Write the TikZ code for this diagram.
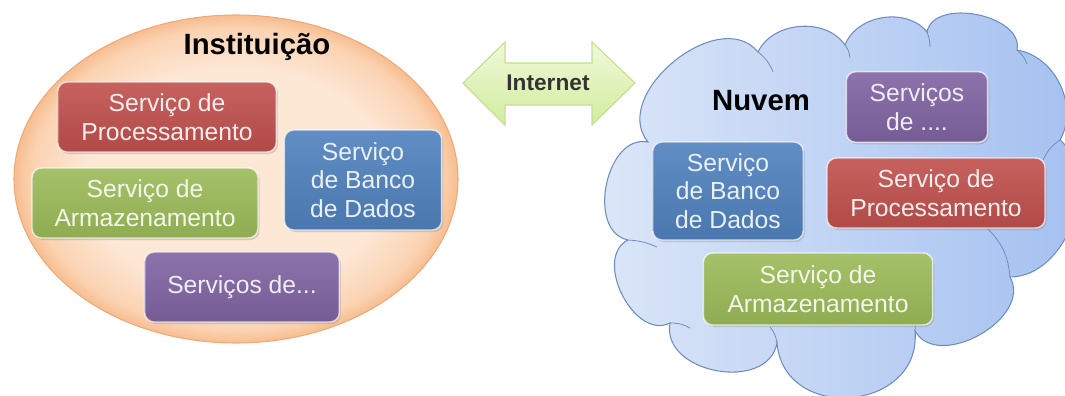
\documentclass[tikz,border=0pt]{standalone}
\usepackage{fontspec}
\setmainfont{Liberation Sans}
\usetikzlibrary{shadows}

\definecolor{peachIn}{HTML}{FDE7D5}
\definecolor{peachMid}{HTML}{FBD3B2}
\definecolor{peachOut}{HTML}{F5B27F}
\definecolor{peachLine}{HTML}{EFAA78}
\definecolor{cloudL}{HTML}{DDE7F8}
\definecolor{cloudR}{HTML}{A2BFF0}
\definecolor{cloudLine}{HTML}{6F8EC0}
\definecolor{arrowTop}{HTML}{EFF9D8}
\definecolor{arrowBot}{HTML}{D2ECA0}
\definecolor{arrowLine}{HTML}{C4DF90}
\definecolor{svcRed}{HTML}{C0504D}
\definecolor{svcGreen}{HTML}{9BBB59}
\definecolor{svcBlue}{HTML}{4F81BD}
\definecolor{svcPurple}{HTML}{8064A2}

\pgfdeclareradialshading{peachglow}{\pgfpoint{0bp}{0bp}}{color(0bp)=(peachIn); color(17bp)=(peachIn); color(23bp)=(peachMid); color(26bp)=(peachOut); color(50bp)=(peachOut)}

\tikzset{
  svc/.style={rounded corners=7pt, draw=white, draw opacity=0.7, line width=1.1pt,
    align=center, inner sep=0pt, font=\fontsize{18.5}{21.5}\selectfont,
    drop shadow={opacity=0.3, shadow xshift=1.2pt, shadow yshift=-1.5pt}},
  redsvc/.style={svc, top color=svcRed!90!white, bottom color=svcRed!92!black, text=white!90!svcRed},
  greensvc/.style={svc, top color=svcGreen!90!white, bottom color=svcGreen!92!black, text=white!88!svcGreen},
  bluesvc/.style={svc, top color=svcBlue!90!white, bottom color=svcBlue!92!black, text=white!88!svcBlue},
  purplesvc/.style={svc, top color=svcPurple!90!white, bottom color=svcPurple!92!black, text=white!88!svcPurple},
  areatitle/.style={font=\bfseries\fontsize{22}{24}\selectfont, inner sep=0pt},
  crease/.style={draw=cloudLine, line width=0.6pt}
}

\begin{document}
\begin{tikzpicture}[x=0.75pt,y=-0.75pt]
\useasboundingbox (0,0) rectangle (1065,396);
\fill[white] (0,0) rectangle (1065,396);

% instituicao
\shade[shading=peachglow] (236,179) ellipse [x radius=166.5pt, y radius=123pt];
\draw[peachLine, line width=0.8pt] (236,179) ellipse [x radius=166.5pt, y radius=123pt];
\node[areatitle] (instTitle) at (257,47) {Instituição};
\node[redsvc, minimum width=164pt, minimum height=52.5pt] (instProc) at (167,117) {Serviço de\\Processamento};
\node[greensvc, minimum width=169.5pt, minimum height=52.5pt] (instArm) at (145,203) {Serviço de\\Armazenamento};
\node[bluesvc, minimum width=118pt, minimum height=75pt] (instBD) at (363,180) {Serviço\\de Banco\\de Dados};
\node[purplesvc, minimum width=146pt, minimum height=52.5pt] (instOutros) at (242,287) {Serviços de...};

% internet
\draw[arrowLine, line width=0.8pt, top color=arrowTop, bottom color=arrowBot]
  (463,83) -- (505,42) -- (505,63) -- (592,63) -- (592,42) -- (635,83)
  -- (592,125) -- (592,105) -- (505,105) -- (505,125) -- cycle;
\node[font=\bfseries\fontsize{17}{19}\selectfont, text=black!80] (inet) at (548,83) {Internet};

% nuvem
\shade[left color=cloudL, right color=cloudR]
  (628,240) to[bend left=90, looseness=1.1] (648,142)
  to[bend left=90, looseness=1.1] (758,52)
  to[bend left=60] (845,45)
  to[bend left=60] (927,32)
  to[bend left=90] (1017,50)
  to[bend left=55] (1060,140)
  to[bend left=70] (1010,277)
  to[bend left=90, looseness=1.1] (915,331)
  to[bend left=90, looseness=1.5] (777,343)
  to[bend left=90, looseness=1.2] (670,323)
  to[bend left=90, looseness=1.1] (628,240);
\draw[cloudLine, line width=0.8pt]
  (628,240) to[bend left=90, looseness=1.1] (648,142)
  to[bend left=90, looseness=1.1] (758,52)
  to[bend left=60] (845,45)
  to[bend left=60] (927,32)
  to[bend left=90] (1017,50)
  to[bend left=55] (1060,140)
  to[bend left=70] (1010,277)
  to[bend left=90, looseness=1.1] (915,331)
  to[bend left=90, looseness=1.5] (777,343)
  to[bend left=90, looseness=1.2] (670,323)
  to[bend left=90, looseness=1.1] (628,240);
\draw[crease] (758,52) to[bend left=15] (773,72);
\draw[crease] (845,45) to[bend left=15] (850,58);
\draw[crease] (927,32) to[bend left=10] (930,47);
\draw[crease] (1017,50) to[bend left=15] (1027,64);
\draw[crease] (1060,140) to[bend right=15] (1043,160);
\draw[crease] (1010,277) to[bend right=20] (987,228);
\draw[crease] (915,331) to[bend right=15] (913,318);
\draw[crease] (777,343) to[bend right=15] (770,327);
\draw[crease] (670,323) to[bend left=15] (690,328);
\draw[crease] (628,240) to[bend left=10] (657,247);
\node[areatitle] (cloudTitle) at (761,101) {Nuvem};
\node[purplesvc, minimum width=106pt, minimum height=53pt] (cloudOutros) at (917,107) {Serviços\\de ....};
\node[bluesvc, minimum width=113pt, minimum height=73.5pt] (cloudBD) at (728,191) {Serviço\\de Banco\\de Dados};
\node[redsvc, minimum width=163.5pt, minimum height=52.5pt] (cloudProc) at (936,193) {Serviço de\\Processamento};
\node[greensvc, minimum width=172pt, minimum height=54pt] (cloudArm) at (818,289) {Serviço de\\Armazenamento};
\end{tikzpicture}
\end{document}
